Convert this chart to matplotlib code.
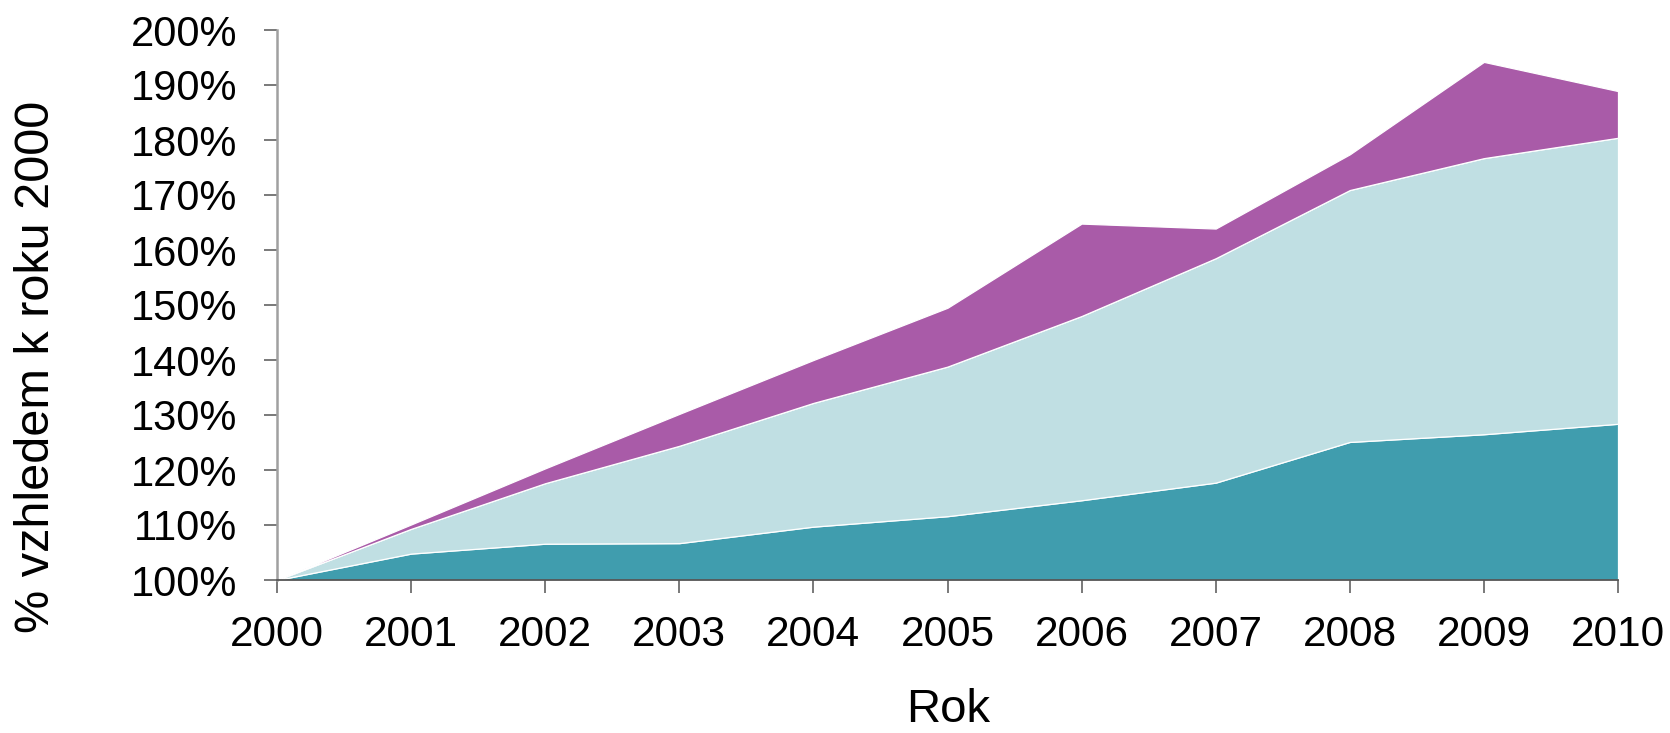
import matplotlib
matplotlib.use("Agg")
import matplotlib.pyplot as plt
from matplotlib.ticker import FuncFormatter, MultipleLocator

plt.rcParams['font.family'] = ['Liberation Sans', 'DejaVu Sans']

# cumulative index lines (% of year 2000), bottom band to top band
years = [2000, 2001, 2002, 2003, 2004, 2005, 2006, 2007, 2008, 2009, 2010]
line_low = [100, 104.8, 106.6, 106.7, 109.7, 111.6, 114.5, 117.7, 125.1, 126.5, 128.4]
line_mid = [100, 109.3, 117.6, 124.4, 132.2, 138.8, 148.0, 158.5, 170.9, 176.7, 180.4]
line_top = [100, 110.1, 120.3, 130.2, 140.0, 149.5, 164.8, 163.9, 177.4, 194.2, 188.9]
base = [100] * len(years)

band_colors = ['#409DAE', '#C0DFE3', '#A95BA8']

fig = plt.figure(figsize=(16.7, 7.33), dpi=100)
ax = fig.add_axes([277 / 1670, 153 / 733, 1341 / 1670, 550 / 733])

bounds = [base, line_low, line_mid, line_top]
for i, c in enumerate(band_colors):
    ax.fill_between(years, bounds[i], bounds[i + 1], facecolor=c,
                    edgecolor='white', linewidth=0.9, zorder=1)

ax.set_xlim(2000, 2010)
ax.set_ylim(100, 200)
ax.set_xticks(years)
ax.yaxis.set_major_locator(MultipleLocator(10))
ax.yaxis.set_major_formatter(FuncFormatter(lambda v, p: f"{v:.0f}%"))

for s in ['top', 'right']:
    ax.spines[s].set_visible(False)
ax.spines['left'].set_color('#A0A0A0')
ax.spines['left'].set_linewidth(1.8)
ax.spines['bottom'].set_color('#555555')
ax.spines['bottom'].set_linewidth(1.3)

ax.tick_params(axis='y', direction='out', length=9.4, width=1.1, color='#555555',
               pad=19, labelsize=30)
ax.tick_params(axis='x', direction='out', length=9.4, width=1.1, color='#555555',
               pad=16, labelsize=30.5)

fig.text(37 / 1670, 0.5, '% vzhledem k roku 2000', rotation=90,
         ha='center', va='center', fontsize=35)
fig.text(948 / 1670, 0.002, 'Rok', ha='center', va='bottom', fontsize=34)

fig.savefig('out.png', dpi=100)
